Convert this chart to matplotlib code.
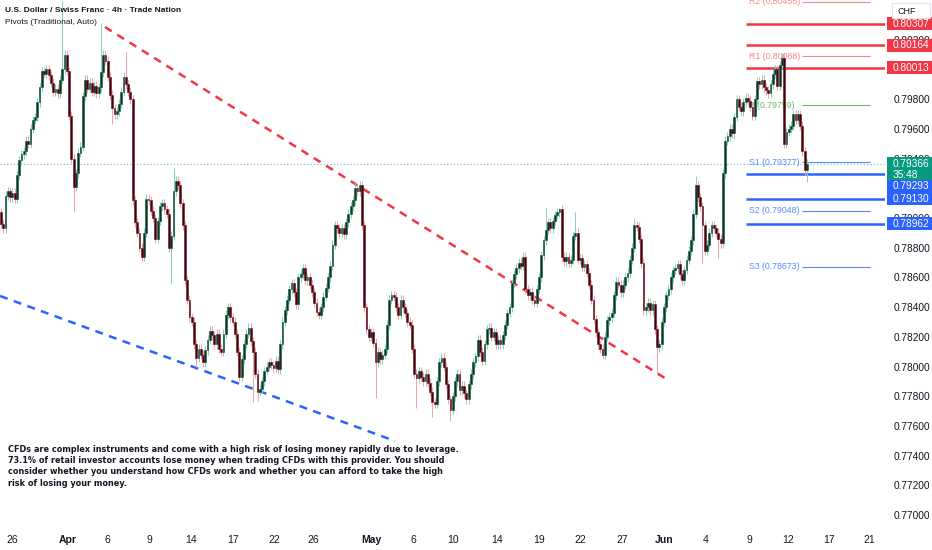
import numpy as np
import matplotlib
matplotlib.use("Agg")
import matplotlib.pyplot as plt
from matplotlib.patches import Rectangle
from matplotlib.ticker import FormatStrFormatter

plt.rcParams['font.family'] = ['Liberation Sans', 'DejaVu Sans']

# Chart text
TITLE = "U.S. Dollar / Swiss Franc · 4h · Trade Nation"
SUBTITLE = "Pivots (Traditional, Auto)"
DISCLAIMER = ("CFDs are complex instruments and come with a high risk of losing money rapidly due to leverage.\n"
              "73.1% of retail investor accounts lose money when trading CFDs with this provider. You should\n"
              "consider whether you understand how CFDs work and whether you can afford to take the high\n"
              "risk of losing your money.")

# 4h closes in pips (x 0.0001) left to right
close_pips = [
    7896, 7893, 7915, 7918, 7914, 7917, 7913, 7929, 7939, 7943,
    7945, 7952, 7950, 7960, 7966, 7968, 7978, 7988, 7999, 7997,
    8000, 7996, 7991, 7985, 7987, 7984, 7993, 8000, 8010, 7999,
    7969, 7940, 7921, 7930, 7944, 7948, 7982, 7993, 7987, 7991,
    7985, 7989, 7984, 7988, 7998, 8010, 8006, 7995, 7983, 7974,
    7970, 7972, 7977, 7985, 7995, 7990, 7985, 7980, 7912, 7897,
    7890, 7880, 7874, 7890, 7913, 7912, 7905, 7900, 7886, 7898,
    7908, 7910, 7906, 7903, 7880, 7888, 7918, 7925, 7922, 7910,
    7895, 7858, 7845, 7833, 7830, 7815, 7806, 7812, 7808, 7803,
    7811, 7818, 7824, 7821, 7815, 7822, 7812, 7810, 7822, 7835,
    7840, 7833, 7830, 7822, 7810, 7793, 7805, 7815, 7822, 7826,
    7817, 7810, 7795, 7783, 7785, 7790, 7797, 7800, 7803, 7801,
    7799, 7804, 7798, 7815, 7830, 7838, 7845, 7852, 7856, 7850,
    7842, 7860, 7862, 7866, 7858, 7860, 7855, 7850, 7843, 7837,
    7835, 7840, 7847, 7853, 7860, 7868, 7882, 7895, 7893, 7890,
    7893, 7889, 7897, 7903, 7908, 7912, 7920, 7918, 7922, 7895,
    7840, 7825, 7820, 7823, 7816, 7803, 7810, 7805, 7808, 7812,
    7828, 7845, 7848, 7847, 7840, 7835, 7845, 7840, 7836, 7830,
    7828, 7812, 7795, 7792, 7797, 7793, 7790, 7795, 7789, 7783,
    7776, 7775, 7790, 7803, 7806, 7800, 7788, 7778, 7771, 7780,
    7790, 7795, 7784, 7787, 7782, 7778, 7788, 7795, 7803, 7807,
    7818, 7810, 7804, 7815, 7825, 7826, 7820, 7823, 7815, 7818,
    7815, 7821, 7828, 7836, 7840, 7856, 7862, 7866, 7870, 7868,
    7874, 7852, 7848, 7850, 7845, 7843, 7852, 7860, 7875, 7885,
    7892, 7897, 7893, 7898, 7902, 7904, 7906, 7874, 7871, 7874,
    7870, 7872, 7888, 7890, 7872, 7873, 7867, 7869, 7863, 7855,
    7845, 7832, 7823, 7815, 7812, 7808, 7820, 7831, 7833, 7836,
    7848, 7857, 7855, 7850, 7855, 7860, 7863, 7872, 7880, 7895,
    7894, 7886, 7870, 7838, 7840, 7843, 7838, 7842, 7825, 7813,
    7815, 7830, 7840, 7848, 7852, 7860, 7865, 7866, 7869, 7862,
    7858, 7865, 7872, 7878, 7885, 7903, 7922, 7914, 7908, 7895,
    7878, 7882, 7890, 7895, 7893, 7890, 7886, 7883, 7930, 7952,
    7955, 7960, 7957, 7968, 7980, 7975, 7972, 7978, 7981, 7979,
    7975, 7969, 7980, 7992, 7990, 7993, 7988, 7986, 7984, 7990,
    7997, 8000, 7989, 8003, 8008, 7950, 7958, 7960, 7962, 7970,
    7966, 7970, 7962, 7945, 7932, 7936.6,
]
first_open_pips = 7904
typical_wick_pips = 3

# long wicks that stand out (bar -> pips)
high_marks = {27: 8046, 44: 8031, 55: 8012, 76: 7934, 156: 7925, 158: 7925,
              240: 7907, 246: 7907, 253: 7904, 279: 7900, 306: 7928, 344: 8011}
low_marks = {32: 7905, 49: 7963, 62: 7871, 75: 7856, 86: 7800, 111: 7776,
             113: 7777, 165: 7779, 183: 7772, 190: 7766, 198: 7763, 289: 7794,
             309: 7870, 316: 7873, 355: 7924}

# date axis (bar index of each label)
tick_labels = ["26", "Apr", "6", "9", "14", "17", "22", "26", "May", "6", "10",
               "14", "19", "22", "27", "Jun", "4", "9", "12", "17", "21"]
tick_bars = [5.0, 29.6, 46.8, 65.2, 83.7, 102.1, 120.3, 137.6, 163.3, 181.6, 199.0,
             218.6, 237.0, 255.4, 273.7, 292.1, 310.2, 329.6, 346.8, 364.9, 382.5]
month_labels = {"Apr", "May", "Jun"}

# price scale labels (those under the CHF box and the 0.80013 badge are hidden)
price_ticks = [0.770, 0.772, 0.774, 0.776, 0.778, 0.780, 0.782, 0.784, 0.786,
               0.788, 0.790, 0.792, 0.794, 0.796, 0.798, 0.802]

# horizontal levels drawn on the chart
red_levels = [0.80307, 0.80164, 0.80013]
blue_levels = [0.79293, 0.79130, 0.78962]
blue_badge_shift = [-12, 0, 0]
levels_from_bar = 328

pivot_names = ["R2", "R1", "P", "S1", "S2", "S3"]
pivot_values = [0.80456, 0.80088, 0.79759, 0.79377, 0.79048, 0.78673]
pivot_from_bar, pivot_to_bar = 353, 383
pivot_label_bar = 329.5

last_price = 0.79366
countdown = "35:48"

# trend lines (bar index, price)
red_trend_bars = [45.8, 293.8]
red_trend_prices = [0.80286, 0.77909]
blue_trend_bars = [-0.4, 173.6]
blue_trend_prices = [0.78475, 0.77498]

# colours
TEXT = "#131722"
RED = "#f23645"
BLUE = "#2962ff"
GREEN = "#089981"
BODY_UP, EDGE_UP, WICK_UP = "#0d3427", "#1a5e48", "#86d1bd"
BODY_DN, EDGE_DN, WICK_DN = "#330a11", "#7a1826", "#f3a3ad"
PIVOT_COL = {"R": "#f7868d", "P": "#66bb6a", "S": "#5b86ff"}

# ---- build OHLC
closes = np.array(close_pips) / 10000
opens = np.r_[first_open_pips / 10000, closes[:-1]]
highs = np.maximum(opens, closes) + typical_wick_pips / 10000
lows = np.minimum(opens, closes) - typical_wick_pips / 10000
for i, v in high_marks.items():
    highs[i] = v / 10000
for i, v in low_marks.items():
    lows[i] = v / 10000
x = np.arange(len(closes))
up = closes >= opens

fig = plt.figure(figsize=(9.32, 5.5), dpi=100, facecolor="white")
ax = fig.add_axes([0, 23 / 550, 885 / 932, 527 / 550])
ax.set_xlim(-0.44, 389.4)
ax.set_ylim(0.769192, 0.804680)
for s in ax.spines.values():
    s.set_visible(False)

# candles
body_lo = np.minimum(opens, closes)
body_h = np.maximum(np.abs(closes - opens), 0.00004)
for m, wc, bc, ec in [(up, WICK_UP, BODY_UP, EDGE_UP), (~up, WICK_DN, BODY_DN, EDGE_DN)]:
    ax.vlines(x[m], lows[m], highs[m], color=wc, lw=0.75, zorder=3)
    ax.bar(x[m], body_h[m], bottom=body_lo[m], width=0.8, color=bc,
           edgecolor=ec, linewidth=0.45, zorder=4)

# trend lines
ax.plot(red_trend_bars, red_trend_prices, color=RED, lw=1.8, dashes=(3.2, 2.6), zorder=2)
ax.plot(blue_trend_bars, blue_trend_prices, color=BLUE, lw=1.8, dashes=(3.2, 2.6), zorder=2)

# last price dotted line
ax.axhline(last_price, color=GREEN, lw=0.8, ls=(0, (1, 2)), alpha=0.6, zorder=1)

# support / resistance levels
for lv in red_levels:
    ax.hlines(lv, levels_from_bar, 389.4, color=RED, lw=1.8, zorder=2)
for lv in blue_levels:
    ax.hlines(lv, levels_from_bar, 389.4, color=BLUE, lw=1.8, zorder=2)

# pivots
for name, val in zip(pivot_names, pivot_values):
    col = PIVOT_COL[name[0]]
    ax.hlines(val, pivot_from_bar, pivot_to_bar, color=col, lw=0.8, zorder=2)
    ax.text(pivot_label_bar, val, f"{name} ({val:.5f})", color=col, fontsize=6.3,
            va="center", ha="left", zorder=2, clip_on=True)

# axes ticks
ax.yaxis.tick_right()
ax.set_yticks(price_ticks)
ax.yaxis.set_major_formatter(FormatStrFormatter("%.5f"))
ax.tick_params(axis="y", length=0, pad=6.5, labelsize=7.3, colors=TEXT)
ax.set_xticks(tick_bars, tick_labels)
ax.tick_params(axis="x", length=0, pad=5.5, labelsize=7.5, colors=TEXT)
for t in ax.get_xticklabels():
    if t.get_text() in month_labels:
        t.set_fontweight("bold")


# price badges on the right scale
def badge(price, lines, color, shift=0):
    yd = ax.transData.transform((0, price))[1] + shift
    h = 13 + 11 * (len(lines) - 1)
    top = yd + 6.5
    fig.add_artist(Rectangle((887 / 932, (top - h) / 550), 45 / 932, h / 550,
                             transform=fig.transFigure, fc=color, ec="none", zorder=5))
    for k, ln in enumerate(lines):
        fig.text(893 / 932, (yd - 11 * k) / 550, ln, color="white", fontsize=7.3,
                 va="center", ha="left", zorder=6)


for lv in red_levels:
    badge(lv, [f"{lv:.5f}"], RED)
badge(last_price, [f"{last_price:.5f}", countdown], GREEN)
for lv, sh in zip(blue_levels, blue_badge_shift):
    badge(lv, [f"{lv:.5f}"], BLUE, sh)

# currency box
fig.add_artist(Rectangle((892 / 932, 1 - 18 / 550), 38 / 932, 15 / 550, transform=fig.transFigure,
                         fc="white", ec="#e0e3eb", lw=0.8, zorder=5))
fig.text(897 / 932, 1 - 11 / 550, "CHF", fontsize=6.5, color=TEXT, va="center", zorder=6)

# header and disclaimer
fig.text(5 / 932, 1 - 10 / 550, TITLE, fontsize=6.0, fontweight="bold", color=TEXT, va="center")
fig.text(5 / 932, 1 - 22 / 550, SUBTITLE, fontsize=6.0, color=TEXT, va="center")
fig.text(8 / 932, 1 - 445 / 550, DISCLAIMER, fontsize=5.85, fontweight="bold", color=TEXT,
         va="top", ha="left", linespacing=1.32, family="DejaVu Sans")

fig.savefig("out.png", dpi=100, facecolor="white")
